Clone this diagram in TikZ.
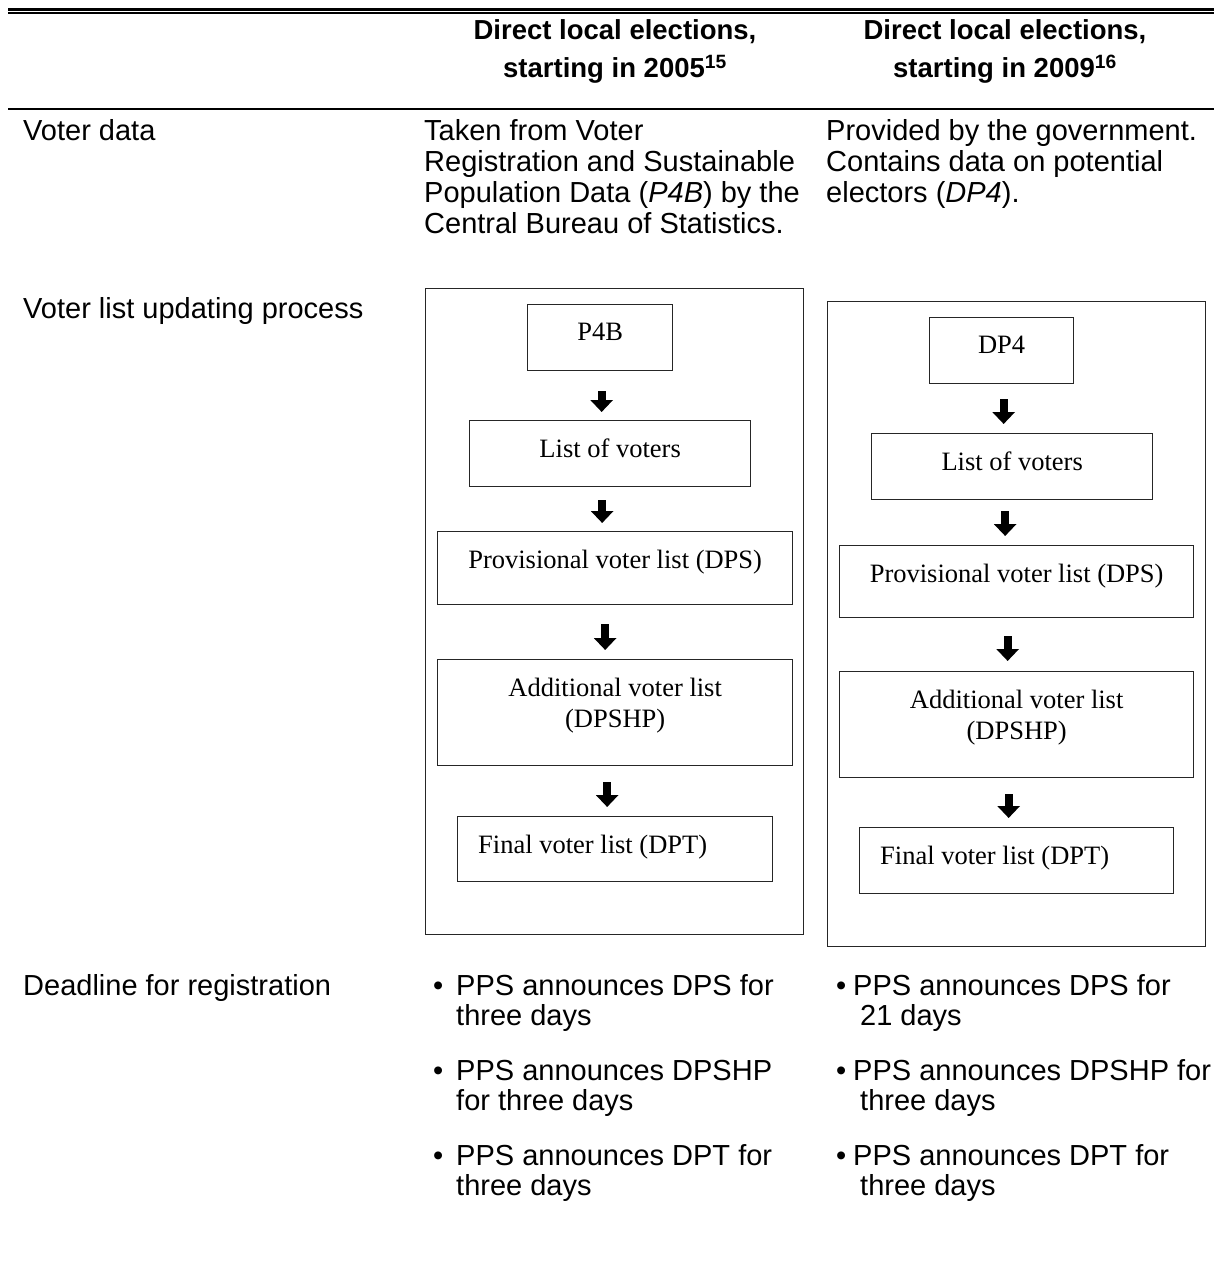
\documentclass[tikz,border=0pt]{standalone}
\usepackage{fontspec}
\setmainfont{Liberation Sans}
\newfontfamily\timesfont{Liberation Serif}
\usetikzlibrary{arrows.meta,calc}

% first-line strut of fixed height, so a paragraph node's top sits 24pt above its first baseline
\newcommand\firstline{\rule{0pt}{24pt}}

\tikzset{
  bodytext/.style={font=\fontsize{29pt}{31pt}\selectfont, inner sep=0pt, align=left, anchor=north west},
  rowhead/.style={font=\fontsize{29pt}{31pt}\selectfont, inner sep=0pt, anchor=base west},
  bullettext/.style={font=\fontsize{29pt}{30pt}\selectfont, inner sep=0pt, align=left, anchor=north west},
  colhead/.style={font=\bfseries\fontsize{27.5pt}{38pt}\selectfont, inner sep=0pt, align=center, anchor=north},
  framebox/.style={draw=black!85, line width=1.3pt, inner sep=0pt, anchor=north west},
  stepbox/.style={draw=black!85, line width=1.3pt, inner sep=0pt, anchor=north west},
  boxtxt/.style={font=\timesfont\fontsize{26.5pt}{31pt}\selectfont, inner sep=0pt, align=center},
  fat/.style={line width=8pt, -{Triangle[width=22pt,length=12pt]}},
}

\begin{document}
\begin{tikzpicture}[x=1pt,y=-1pt]
\useasboundingbox (0,0) rectangle (1214,1262);

% table rules
\draw[line width=3pt] (8,9) -- (1214,9);
\draw[line width=1.5pt] (8,12.8) -- (1214,12.8);
\draw[line width=2pt] (8,108.5) -- (1214,108.5);

% column headings
\node[colhead] (h2005) at (615,15) {\firstline Direct local elections,\\starting in 2005\textsuperscript{15}};
\node[colhead] (h2009) at (1005,15) {\firstline Direct local elections,\\starting in 2009\textsuperscript{16}};

% row: voter data
\node[rowhead] (rdata) at (23,140) {Voter data};
\node[bodytext] (data2005) at (424,116) {\firstline Taken from Voter\\Registration and Sustainable\\Population Data (\textit{P4B}) by the\\Central Bureau of Statistics.};
\node[bodytext] (data2009) at (826,116) {\firstline Provided by the government.\\Contains data on potential\\electors (\textit{DP4}).};

% row: updating process
\node[rowhead] (rproc) at (23,318) {Voter list updating process};

% left flow (2005)
\node[framebox, minimum width=378pt, minimum height=646pt] (frameL) at (425,288) {};
\node[stepbox, minimum width=145pt, minimum height=66pt,
  label={[boxtxt, anchor=north, yshift=-18.5pt]north:P4B}] (p4b) at (527,304) {};
\node[stepbox, minimum width=281pt, minimum height=66pt,
  label={[boxtxt, anchor=north, yshift=-18.5pt]north:List of voters}] (listL) at (469,420) {};
\node[stepbox, minimum width=355pt, minimum height=73pt,
  label={[boxtxt, anchor=north, yshift=-18.5pt]north:Provisional voter list (DPS)}] (dpsL) at (437,531) {};
\node[stepbox, minimum width=355pt, minimum height=106pt,
  label={[boxtxt, anchor=north, yshift=-18.5pt]north:{Additional voter list\\(DPSHP)}}] (dpshpL) at (437,659) {};
\node[stepbox, minimum width=315pt, minimum height=65pt,
  label={[boxtxt, anchor=north west, xshift=21pt, yshift=-18.5pt]north west:Final voter list (DPT)}] (dptL) at (457,816) {};

\draw[fat] ($(p4b.south)+(1.5,20)$) -- ($(p4b.south |- listL.north)+(1.5,-8)$);
\draw[fat] ($(listL.south)+(-8,13)$) -- ($(listL.south |- dpsL.north)+(-8,-8)$);
\draw[fat] ($(dpsL.south)+(-10,19)$) -- ($(dpsL.south |- dpshpL.north)+(-10,-9)$);
\draw[fat] ($(dpshpL.south)+(-8,16)$) -- ($(dpshpL.south |- dptL.north)+(-8,-9)$);

% right flow (2009)
\node[framebox, minimum width=378pt, minimum height=645pt] (frameR) at (827,301) {};
\node[stepbox, minimum width=144pt, minimum height=66pt,
  label={[boxtxt, anchor=north, yshift=-18.5pt]north:DP4}] (dp4) at (929,317) {};
\node[stepbox, minimum width=281pt, minimum height=66pt,
  label={[boxtxt, anchor=north, yshift=-18.5pt]north:List of voters}] (listR) at (871,433) {};
\node[stepbox, minimum width=354pt, minimum height=72pt,
  label={[boxtxt, anchor=north, yshift=-18.5pt]north:Provisional voter list (DPS)}] (dpsR) at (839,545) {};
\node[stepbox, minimum width=354pt, minimum height=106pt,
  label={[boxtxt, anchor=north, yshift=-18.5pt]north:{Additional voter list\\(DPSHP)}}] (dpshpR) at (839,671) {};
\node[stepbox, minimum width=314pt, minimum height=66pt,
  label={[boxtxt, anchor=north west, xshift=21pt, yshift=-18.5pt]north west:Final voter list (DPT)}] (dptR) at (859,827) {};

\draw[fat] ($(dp4.south)+(2,15)$) -- ($(dp4.south |- listR.north)+(2,-9)$);
\draw[fat] ($(listR.south)+(-7,11)$) -- ($(listR.south |- dpsR.north)+(-7,-9)$);
\draw[fat] ($(dpsR.south)+(-9,18)$) -- ($(dpsR.south |- dpshpR.north)+(-9,-10)$);
\draw[fat] ($(dpshpR.south)+(-8,16)$) -- ($(dpshpR.south |- dptR.north)+(-8,-9)$);

% row: deadline
\node[rowhead] (rdead) at (23,995) {Deadline for registration};
\node[bullettext] (d1L) at (433,971) {\firstline\makebox[23pt][l]{•}PPS announces DPS for\\\hspace*{23pt}three days};
\node[bullettext] (d2L) at (433,1056) {\firstline\makebox[23pt][l]{•}PPS announces DPSHP\\\hspace*{23pt}for three days};
\node[bullettext] (d3L) at (433,1141) {\firstline\makebox[23pt][l]{•}PPS announces DPT for\\\hspace*{23pt}three days};

\node[bullettext] (d1R) at (836,971) {\firstline\makebox[17pt][l]{•}PPS announces DPS for\\\hspace*{24pt}21 days};
\node[bullettext] (d2R) at (836,1056) {\firstline\makebox[17pt][l]{•}PPS announces DPSHP for\\\hspace*{24pt}three days};
\node[bullettext] (d3R) at (836,1141) {\firstline\makebox[17pt][l]{•}PPS announces DPT for\\\hspace*{24pt}three days};
\end{tikzpicture}
\end{document}
